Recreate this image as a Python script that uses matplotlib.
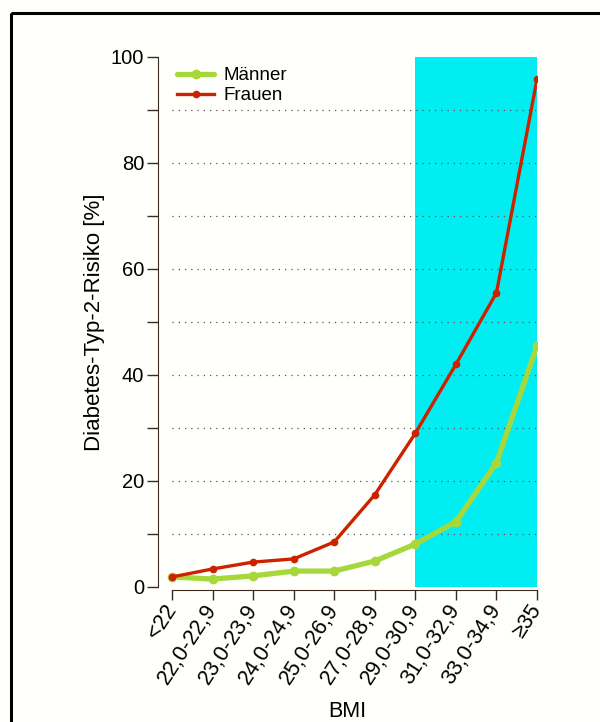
import matplotlib
matplotlib.use("Agg")
import matplotlib.pyplot as plt
from matplotlib.patches import Rectangle

categories = ["<22", "22,0-22,9", "23,0-23,9", "24,0-24,9", "25,0-26,9",
              "27,0-28,9", "29,0-30,9", "31,0-32,9", "33,0-34,9", "≥35"]
maenner = [1.9, 1.5, 2.1, 3.0, 3.0, 4.9, 8.1, 12.3, 23.4, 45.5]
frauen = [1.9, 3.4, 4.7, 5.3, 8.5, 17.4, 29.0, 42.0, 55.5, 95.8]
highlight_start = "29,0-30,9"
highlight_end = "≥35"

plt.rcParams['font.family'] = ['Liberation Sans', 'DejaVu Sans']

W, H = 600, 722
fig = plt.figure(figsize=(W / 100, H / 100), dpi=100, facecolor='#fffffb')

# outer frame
fig.add_artist(Rectangle((11 / W, 1 - 13 / H), 1.0, -1.0, transform=fig.transFigure,
                         fill=False, edgecolor='black', linewidth=2.2))

x_left, x_right = 158, 537
y_bot, y_top = 587, 57
ax = fig.add_axes([x_left / W, 1 - y_bot / H, (x_right - x_left) / W, (y_bot - y_top) / H])
ax.set_facecolor('none')

x = list(range(len(categories)))
xmin = -14 / ((x_right - 172) / 9)
ax.set_xlim(xmin, len(categories) - 1)
ax.set_ylim(0, 100)

i0 = categories.index(highlight_start)
i1 = categories.index(highlight_end)
ax.axvspan(i0, i1, ymin=0, ymax=1, color='#00eef2', zorder=0, lw=0)

for yv in range(10, 100, 10):
    ax.plot([0, len(categories) - 1], [yv, yv], linestyle=(0, (1, 4)), color='#555555',
            linewidth=0.9, zorder=1)

ax.plot(x, maenner, color='#a6d83c', linewidth=3.8, marker='o', markersize=6,
        label='Männer', zorder=3, solid_capstyle='round')
ax.plot(x, frauen, color='#cc2200', linewidth=2.4, marker='o', markersize=4.5,
        label='Frauen', zorder=4)

for s in ['top', 'right']:
    ax.spines[s].set_visible(False)
ax.spines['left'].set_bounds(0, 100)
ax.spines['left'].set_color('#3a2a20')
ax.spines['bottom'].set_bounds(0, len(categories) - 1)
ax.spines['bottom'].set_position(('outward', 2))
ax.spines['bottom'].set_color('#3a2a20')

ax.set_yticks(range(0, 101, 20))
ax.set_yticks(range(10, 100, 20), minor=True)
ax.tick_params(axis='y', which='both', length=8, width=1, color='#3a2a20',
               labelsize=14.5, pad=2)
ax.set_xticks(x)
ax.set_xticklabels(categories, rotation=57, ha='right', va='center',
                   rotation_mode='anchor', fontsize=15.5)
ax.tick_params(axis='x', length=7, width=1, color='#3a2a20', pad=5)

ax.set_ylabel('Diabetes-Typ-2-Risiko [%]', fontsize=16, labelpad=4)
ax.set_xlabel('BMI', fontsize=15.5, labelpad=9)

ax.legend(loc='upper left', bbox_to_anchor=(0.03, 0.995), frameon=False, fontsize=13.5,
          handlelength=2.0, handletextpad=0.5, labelspacing=0.15, borderaxespad=0)

fig.savefig('out.png', dpi=100, facecolor=fig.get_facecolor())
